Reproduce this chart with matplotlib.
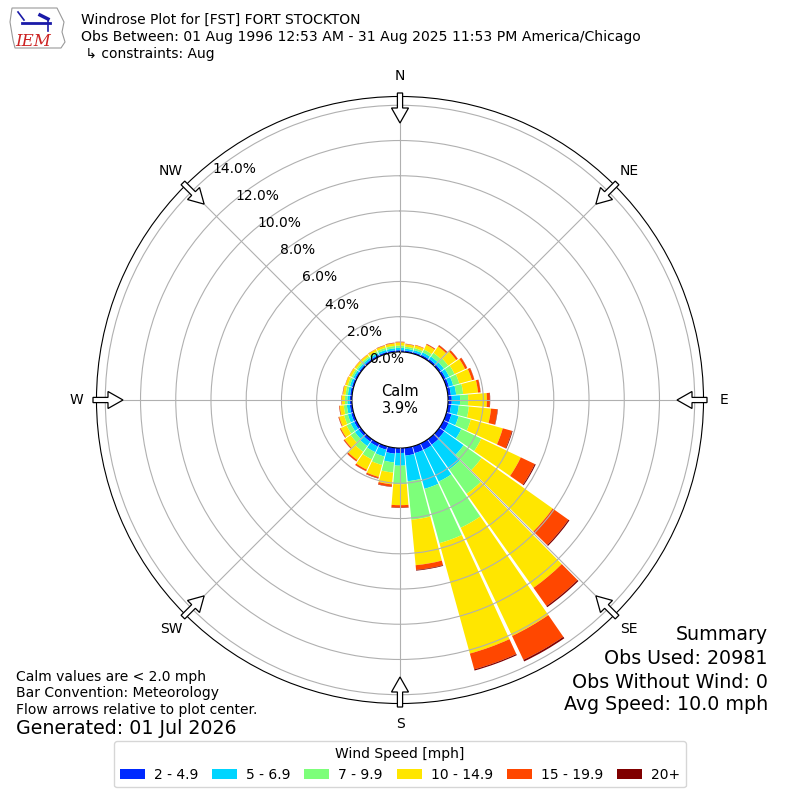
import numpy as np
import matplotlib
matplotlib.use("Agg")
import matplotlib.pyplot as plt
from matplotlib.patches import Polygon

# direction bins (deg, meteorological) and percent of obs per speed class
directions = np.arange(0, 360, 10)
speed_labels = ["2 - 4.9", "5 - 6.9", "7 - 9.9", "10 - 14.9", "15 - 19.9", "20+"]
spd_2_5 = [.10, .09, .09, .11, .12, .13, .14, .15, .17, .21, .18, .30, .32, .35, .38, .40, .40, .44,
           .28, .33, .20, .20, .18, .16, .15, .14, .13, .12, .11, .10, .10, .10, .10, .10, .10, .10]
spd_5_7 = [.13, .11, .12, .15, .18, .20, .22, .25, .30, .47, .44, .42, .80, 1.35, 1.72, 2.0, 2.1, 1.46,
           .72, .50, .40, .35, .30, .25, .22, .20, .17, .14, .13, .12, .11, .11, .11, .11, .12, .12]
spd_7_10 = [.13, .11, .12, .18, .25, .30, .34, .36, .40, .46, .58, .72, 1.26, 1.25, 1.70, 2.9, 3.2, 2.2,
            1.05, .58, .50, .45, .40, .30, .26, .22, .18, .14, .13, .12, .11, .10, .10, .11, .12, .13]
spd_10_15 = [.18, .14, .16, .30, .45, .55, .66, .74, .85, 1.06, 1.26, 1.88, 2.48, 4.95, 6.55, 6.8, 6.5, 2.59,
             1.19, .67, .70, .65, .57, .42, .36, .29, .23, .17, .15, .14, .13, .12, .12, .13, .13, .15]
spd_15_20 = [.03, .02, .03, .05, .09, .11, .13, .14, .14, .17, .37, .54, .88, 1.1, 1.27, 1.5, .93, .27,
             .14, .13, .08, .09, .09, .06, .05, .04, .03, .02, .02, .02, .02, .02, .02, .02, .02, .03]
spd_20p = [.01, .01, 0, .01, .01, .01, .01, .01, .01, .02, .02, .04, .06, .07, .08, .10, .07, .04,
           .02, .02, .02, .01, .01, .01, .01, .01, .01, .01, .01, 0, 0, 0, 0, 0, .01, .01]
series = [spd_2_5, spd_5_7, spd_7_10, spd_10_15, spd_15_20, spd_20p]
colors = plt.cm.jet(np.linspace(0, 1, 7)[1:])

calm_pct = 3.9
rings = [0, 2, 4, 6, 8, 10, 12, 14]
compass = ["N", "NE", "E", "SE", "S", "SW", "W", "NW"]

fig = plt.figure(figsize=(8, 8), dpi=100)
ax = fig.add_axes([0.1206, 0.1206, 0.7588, 0.7588], projection="polar")
ax.set_theta_zero_location("N")
ax.set_theta_direction(-1)

theta = np.deg2rad(directions)
bottom = np.zeros(len(directions))
for vals, col, lab in zip(series, colors, speed_labels):
    vals = np.array(vals)
    ax.bar(theta, vals, width=np.deg2rad(9.2), bottom=bottom, color=col,
           label=lab, linewidth=0, zorder=1)
    bottom += vals

ax.set_rorigin(-2.73)
ax.set_ylim(0, 14.5)
ax.set_yticks(rings[1:])
ax.set_yticklabels([])
ax.set_xticks(np.deg2rad(np.arange(0, 360, 45)))
ax.set_xticklabels([])
ax.grid(True, color="#b0b0b0", linewidth=0.8)
ax.set_axisbelow(False)
for r in rings:
    ax.text(np.deg2rad(-39.5), r, f"{r:.1f}%", ha="left", va="baseline",
            fontsize=10, zorder=5)

# overlay in pixel coordinates for annotations
ov = fig.add_axes([0, 0, 1, 1], zorder=10)
ov.set_xlim(0, 800)
ov.set_ylim(800, 0)
ov.axis("off")

cx, cy = 400, 400
ov.text(cx, cy, f"Calm\n{calm_pct:.1f}%", ha="center", va="center",
        multialignment="center", fontsize=10.5)

for i, name in enumerate(compass):
    ang = np.deg2rad(i * 45)
    ux, uy = np.sin(ang), -np.cos(ang)
    px, py = -uy, ux
    ov.text(cx + 324 * ux, cy + 324 * uy, name, ha="center", va="center", fontsize=10)
    pts = []
    for rr, hw in [(307, 2.6), (292, 2.6), (292, 8.5), (277, 0), (292, -8.5), (292, -2.6), (307, -2.6)]:
        pts.append((cx + rr * ux + hw * px, cy + rr * uy + hw * py))
    ov.add_patch(Polygon(pts, closed=True, facecolor="white", edgecolor="black", lw=0.9))

# header
ov.text(81, 20, "Windrose Plot for [FST] FORT STOCKTON", fontsize=10, va="center")
ov.text(81, 37, "Obs Between: 01 Aug 1996 12:53 AM - 31 Aug 2025 11:53 PM America/Chicago",
        fontsize=10.1, va="center")
ov.text(81, 54, " \u21b3 constraints: Aug", fontsize=10, va="center")

# logo
iowa = [(12, 8), (57, 8), (60, 14), (64, 22), (62, 32), (65, 42), (61, 48), (15, 48), (13, 40), (10, 22)]
ov.add_patch(Polygon(iowa, closed=True, facecolor="none", edgecolor="#999999", lw=0.8))
ov.plot([22, 50], [23, 23], color="#1a1aa8", lw=2)
ov.plot([18, 24], [12, 20], color="#1a1aa8", lw=1.2)
ov.plot([40, 48], [15, 19], color="#1a1aa8", lw=2.5)
ov.plot([48, 48], [19, 31], color="#1a1aa8", lw=1.2)
ov.text(15, 46, "IEM", color="#cc2222", fontsize=12, fontstyle="italic",
        family="DejaVu Serif", va="baseline")

# footer texts
ov.text(16, 677, "Calm values are < 2.0 mph", fontsize=10, va="center")
ov.text(16, 693, "Bar Convention: Meteorology", fontsize=10, va="center")
ov.text(16, 710, "Flow arrows relative to plot center.", fontsize=10, va="center")
ov.text(16, 729, "Generated: 01 Jul 2026", fontsize=13.7, va="center")

ov.text(768, 635, "Summary", fontsize=13.7, ha="right", va="center")
ov.text(768, 659, "Obs Used: 20981", fontsize=13.7, ha="right", va="center")
ov.text(768, 682, "Obs Without Wind: 0", fontsize=13.7, ha="right", va="center")
ov.text(768, 705, "Avg Speed: 10.0 mph", fontsize=13.7, ha="right", va="center")

handles, labels = ax.get_legend_handles_labels()
fig.legend(handles, labels, loc="lower center", bbox_to_anchor=(0.5, 0.007), ncol=6,
           title="Wind Speed [mph]", fontsize=10, title_fontsize=10,
           handlelength=1.8, handletextpad=0.65, columnspacing=1.0)

fig.savefig("out.png", dpi=100)
